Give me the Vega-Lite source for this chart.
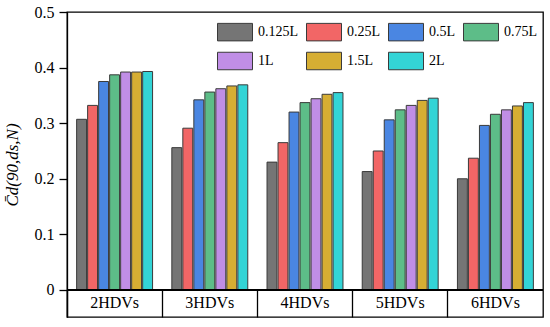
{
  "$schema": "https://vega.github.io/schema/vega-lite/v6.json",
  "width": 476,
  "height": 305,
  "autosize": {"type": "none"},
  "padding": {"left": 67, "top": 12, "right": 7, "bottom": 10},
  "background": "white",
  "config": {
    "view": {"stroke": "black", "strokeWidth": 1.3},
    "font": "Liberation Serif"
  },
  "datasets": {
    "bars": [
      {"g": "2HDVs", "s": "0.125L", "v": 0.307}, {"g": "2HDVs", "s": "0.25L", "v": 0.332}, {"g": "2HDVs", "s": "0.5L", "v": 0.375}, {"g": "2HDVs", "s": "0.75L", "v": 0.387}, {"g": "2HDVs", "s": "1L", "v": 0.392}, {"g": "2HDVs", "s": "1.5L", "v": 0.392}, {"g": "2HDVs", "s": "2L", "v": 0.393},
      {"g": "3HDVs", "s": "0.125L", "v": 0.256}, {"g": "3HDVs", "s": "0.25L", "v": 0.291}, {"g": "3HDVs", "s": "0.5L", "v": 0.342}, {"g": "3HDVs", "s": "0.75L", "v": 0.356}, {"g": "3HDVs", "s": "1L", "v": 0.362}, {"g": "3HDVs", "s": "1.5L", "v": 0.367}, {"g": "3HDVs", "s": "2L", "v": 0.369},
      {"g": "4HDVs", "s": "0.125L", "v": 0.230}, {"g": "4HDVs", "s": "0.25L", "v": 0.265}, {"g": "4HDVs", "s": "0.5L", "v": 0.320}, {"g": "4HDVs", "s": "0.75L", "v": 0.337}, {"g": "4HDVs", "s": "1L", "v": 0.344}, {"g": "4HDVs", "s": "1.5L", "v": 0.352}, {"g": "4HDVs", "s": "2L", "v": 0.355},
      {"g": "5HDVs", "s": "0.125L", "v": 0.213}, {"g": "5HDVs", "s": "0.25L", "v": 0.250}, {"g": "5HDVs", "s": "0.5L", "v": 0.306}, {"g": "5HDVs", "s": "0.75L", "v": 0.324}, {"g": "5HDVs", "s": "1L", "v": 0.332}, {"g": "5HDVs", "s": "1.5L", "v": 0.341}, {"g": "5HDVs", "s": "2L", "v": 0.345},
      {"g": "6HDVs", "s": "0.125L", "v": 0.200}, {"g": "6HDVs", "s": "0.25L", "v": 0.237}, {"g": "6HDVs", "s": "0.5L", "v": 0.296}, {"g": "6HDVs", "s": "0.75L", "v": 0.316}, {"g": "6HDVs", "s": "1L", "v": 0.324}, {"g": "6HDVs", "s": "1.5L", "v": 0.331}, {"g": "6HDVs", "s": "2L", "v": 0.337}
    ],
    "groups": [
      {"g": "2HDVs", "ly": -0.0243}, {"g": "3HDVs", "ly": -0.0243}, {"g": "4HDVs", "ly": -0.0243}, {"g": "5HDVs", "ly": -0.0243}, {"g": "6HDVs", "ly": -0.0243}
    ]
  },
  "layer": [
    {
      "data": {"name": "bars"},
      "mark": {"type": "bar", "stroke": "#3a3a3a", "strokeWidth": 1},
      "encoding": {
        "x": {
          "field": "g", "type": "nominal", "sort": null,
          "scale": {"paddingInner": 0, "paddingOuter": 0},
          "axis": {
            "title": null, "labels": false, "domain": false,
            "bandPosition": 0, "tickSize": -27, "tickColor": "black", "tickWidth": 1.3
          }
        },
        "xOffset": {
          "field": "s", "type": "nominal", "sort": null,
          "scale": {"paddingInner": 0.1, "paddingOuter": 0.875}
        },
        "y": {
          "field": "v", "type": "quantitative",
          "scale": {"domain": [-0.0486, 0.5], "nice": false, "zero": false},
          "axis": {
            "values": [0, 0.05, 0.1, 0.15, 0.2, 0.25, 0.3, 0.35, 0.4, 0.45, 0.5],
            "labelExpr": "round(datum.value*100) % 10 === 0 ? datum.label : ''",
            "format": "~g",
            "grid": false,
            "domainColor": "black", "domainWidth": 1.3,
            "tickColor": "black", "tickWidth": 1.3,
            "tickSize": {"condition": {"test": "round(datum.value*100) % 10 === 0", "value": 8}, "value": 4},
            "labelPadding": 5,
            "labelFontSize": 16, "labelColor": "black", "labelFont": "Liberation Serif",
            "title": "C̄d(90,ds,N)",
            "titleFont": "Liberation Serif", "titleFontSize": 17, "titleFontWeight": "normal", "titleFontStyle": "italic",
            "titleColor": "black", "titlePadding": 13
          }
        },
        "color": {
          "field": "s", "type": "nominal", "sort": null,
          "scale": {
            "domain": ["0.125L", "0.25L", "0.5L", "0.75L", "1L", "1.5L", "2L"],
            "range": ["#757575", "#F26666", "#4A86E2", "#5DBD88", "#C08EE6", "#D6AE33", "#33D4D6"]
          },
          "legend": {
            "title": null, "orient": "none", "legendX": 150, "legendY": 2,
            "direction": "horizontal", "columns": 4,
            "symbolType": "M-1,-0.5H1V0.5H-1Z", "symbolSize": 1225,
            "symbolStrokeColor": "#3a3a3a", "symbolStrokeWidth": 1, "symbolOpacity": 1,
            "labelFont": "Liberation Serif", "labelFontSize": 14, "labelColor": "black",
            "labelOffset": 5, "columnPadding": 5, "rowPadding": -14.5
          }
        }
      }
    },
    {
      "data": {"name": "groups"},
      "mark": {"type": "text", "fontSize": 16, "font": "Liberation Serif", "color": "black", "baseline": "middle"},
      "encoding": {
        "x": {"field": "g", "type": "nominal", "sort": null},
        "y": {"field": "ly", "type": "quantitative"},
        "text": {"field": "g"}
      }
    },
    {
      "data": {"name": "groups"},
      "mark": {"type": "rule", "color": "black", "strokeWidth": 1.3},
      "encoding": {"y": {"datum": 0}}
    }
  ]
}
